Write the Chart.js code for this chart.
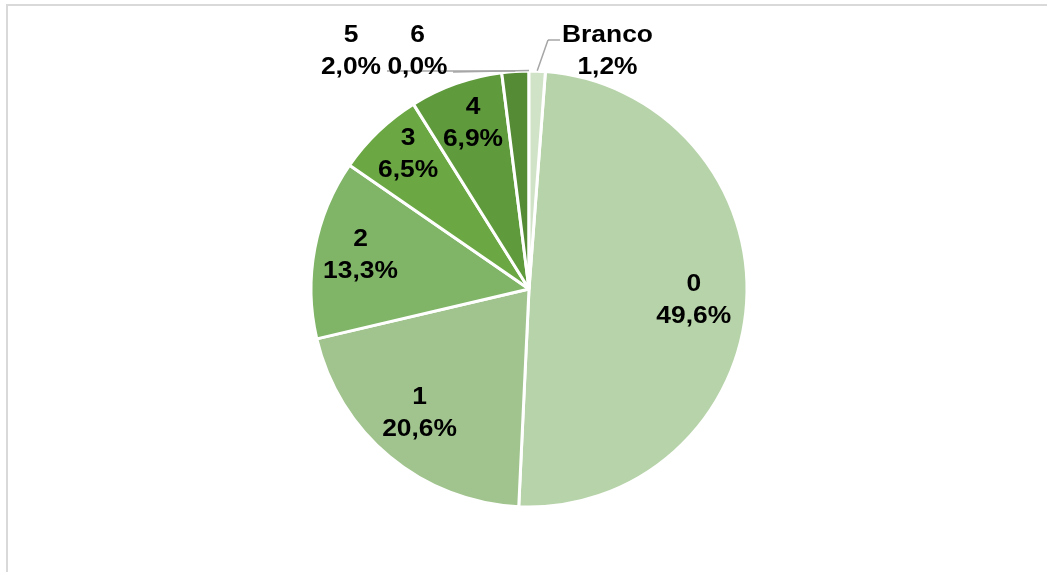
<!DOCTYPE html>
<html>
<head>
<meta charset="utf-8">
<script src="https://cdn.jsdelivr.net/npm/chart.js@4/dist/chart.umd.min.js"></script>
<style>
  html, body { margin: 0; padding: 0; background: #fff; }
  #wrap { position: relative; width: 1047px; height: 572px; overflow: hidden; background: #fff; }
  #frame { position: absolute; left: 6px; top: 4px; width: 1100px; height: 700px;
           border-top: 2px solid #d9d9d9; border-left: 2px solid #d9d9d9; box-sizing: border-box; }
  canvas { position: absolute; left: 0; top: 0; }
</style>
</head>
<body>
<div id="wrap">
  <div id="frame"></div>
  <canvas id="chart" width="1047" height="572"></canvas>
</div>
<script>
// Answer categories and their share of responses (%)
const categories  = ['0', '1', '2', '3', '4', '5', '6', 'Branco'];
const percentages = [49.6, 20.6, 13.3, 6.5, 6.9, 2.0, 0.0, 1.2];
const sliceColors = ['#b7d3a9', '#a1c48e', '#80b568', '#6ba843', '#5f9b3c', '#548b34', '#4a7b2d', '#d1e3c7'];

const valueLabels = percentages.map(p => p.toFixed(1).replace('.', ',') + '%');
const total = percentages.reduce((a, b) => a + b, 0);
// "Branco" sits just before "0", so the first slice starts after it
const startRotation = percentages[percentages.length - 1] / total * 360;

// Label placement: inside slices use a fraction of the radius (plus a small
// angular nudge in degrees); small slices get an outside label with a leader line.
const placement = [
  { inside: true, r: 0.757, da: -0.2 },
  { inside: true, r: 0.754, da: 2.0 },
  { inside: true, r: 0.79,  da: 1.2 },
  { inside: true, r: 0.835, da: 2.1 },
  { inside: true, r: 0.81,  da: 1.1 },
  { x: 351,   y: 49, leader: [[36, 22]] },
  { x: 417.5, y: 49, leader: [[35.5, 23]] },
  { x: 607.5, y: 49, leader: [[-47.5, -9], [-59.5, -9]] }
];

function drawText(ctx, text, x, y) {
  ctx.save();
  ctx.translate(x, y + 2);
  ctx.scale(1.1, 1);
  ctx.fillText(text, 0, 0);
  ctx.restore();
}

const sliceLabels = {
  id: 'sliceLabels',
  afterDatasetsDraw(chart) {
    const ctx = chart.ctx;
    const meta = chart.getDatasetMeta(0);
    ctx.save();
    ctx.font = 'bold 24px "Liberation Sans", Arial, sans-serif';
    ctx.textAlign = 'center';
    ctx.textBaseline = 'middle';
    meta.data.forEach((arc, i) => {
      const p = arc.getProps(['x', 'y', 'startAngle', 'endAngle', 'outerRadius'], true);
      const mid = (p.startAngle + p.endAngle) / 2;
      const place = placement[i];
      let lx, ly;
      if (place.inside) {
        const a = mid + place.da * Math.PI / 180;
        lx = p.x + Math.cos(a) * p.outerRadius * place.r;
        ly = p.y + Math.sin(a) * p.outerRadius * place.r;
      } else {
        lx = place.x;
        ly = place.y;
        ctx.strokeStyle = '#a6a6a6';
        ctx.lineWidth = 1.5;
        ctx.beginPath();
        place.leader.forEach((pt, k) => {
          if (k === 0) ctx.moveTo(lx + pt[0], ly + pt[1]);
          else ctx.lineTo(lx + pt[0], ly + pt[1]);
        });
        const last = place.leader[place.leader.length - 1];
        ctx.moveTo(lx + last[0], ly + last[1]);
        ctx.lineTo(p.x + Math.cos(mid) * (p.outerRadius + 0.5), p.y + Math.sin(mid) * (p.outerRadius + 0.5));
        ctx.stroke();
      }
      ctx.fillStyle = '#000';
      drawText(ctx, categories[i], lx, ly - 16);
      drawText(ctx, valueLabels[i], lx, ly + 16);
    });
    ctx.restore();
  }
};

new Chart(document.getElementById('chart'), {
  type: 'pie',
  data: {
    labels: categories,
    datasets: [{
      data: percentages,
      backgroundColor: sliceColors,
      borderColor: '#ffffff',
      borderWidth: 3
    }]
  },
  options: {
    responsive: false,
    animation: false,
    rotation: startRotation,
    radius: 218,
    layout: { padding: { left: 312, right: 301, top: 72, bottom: 66 } },
    plugins: {
      legend: { display: false },
      title: { display: false },
      tooltip: { enabled: false }
    }
  },
  plugins: [sliceLabels]
});
</script>
</body>
</html>
